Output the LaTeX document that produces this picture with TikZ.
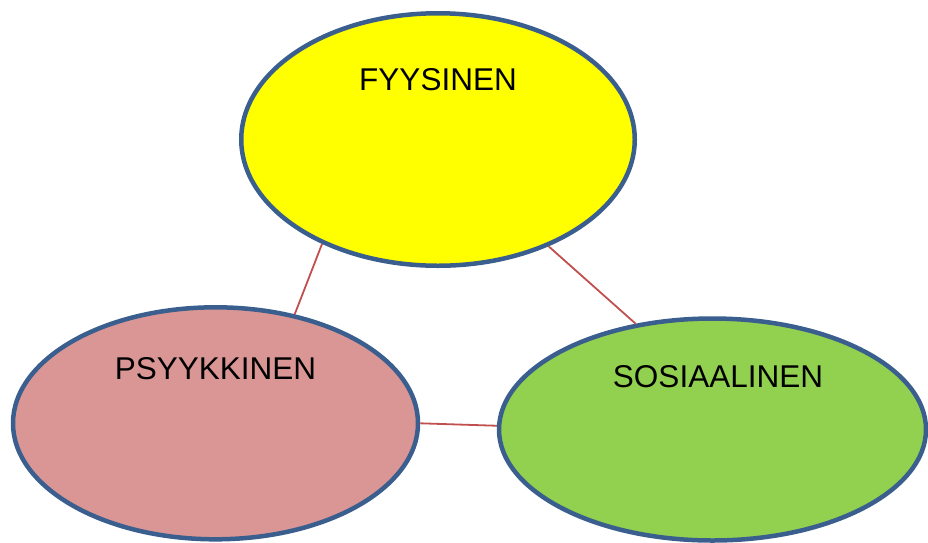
\documentclass[tikz,border=0pt]{standalone}
\usepackage{fontspec}
\setmainfont{Liberation Sans}
\usetikzlibrary{shapes.geometric}
\definecolor{bord}{HTML}{3A5F8F}
\definecolor{linkred}{HTML}{C0504D}
\definecolor{pinkf}{HTML}{D99694}
\definecolor{greenf}{HTML}{92D050}
\definecolor{yellowf}{HTML}{FFFF00}
\tikzset{
  blob/.style={ellipse, draw=bord, line width=4.5pt, inner sep=0pt},
  lbl/.style={inner sep=0pt, font=\fontsize{31.5}{38}\selectfont, text=black},
  link/.style={draw=linkred, line width=1.8pt}
}
\begin{document}
\begin{tikzpicture}[x=1pt,y=-1pt]
\useasboundingbox (0,0) rectangle (928,542);
\node[blob, fill=yellowf, minimum width=393.5pt, minimum height=252.5pt] (fys) at (438,139.5) {};
\node[blob, fill=pinkf, minimum width=405pt, minimum height=232pt] (psy) at (215.5,423.3) {};
\node[blob, fill=greenf, minimum width=427pt, minimum height=222pt] (sos) at (712.5,429.5) {};
\node[lbl] (tfys) at (438,80) {FYYSINEN};
\node[lbl] (tpsy) at (215.5,369) {PSYYKKINEN};
\node[lbl] (tsos) at (718,377) {SOSIAALINEN};
\draw[link] (fys.222.9) -- (psy.54.8);
\draw[link] (fys.316.4) -- (sos.126.5);
\draw[link] (psy.-0.8) -- (sos.179.5);
\end{tikzpicture}
\end{document}
